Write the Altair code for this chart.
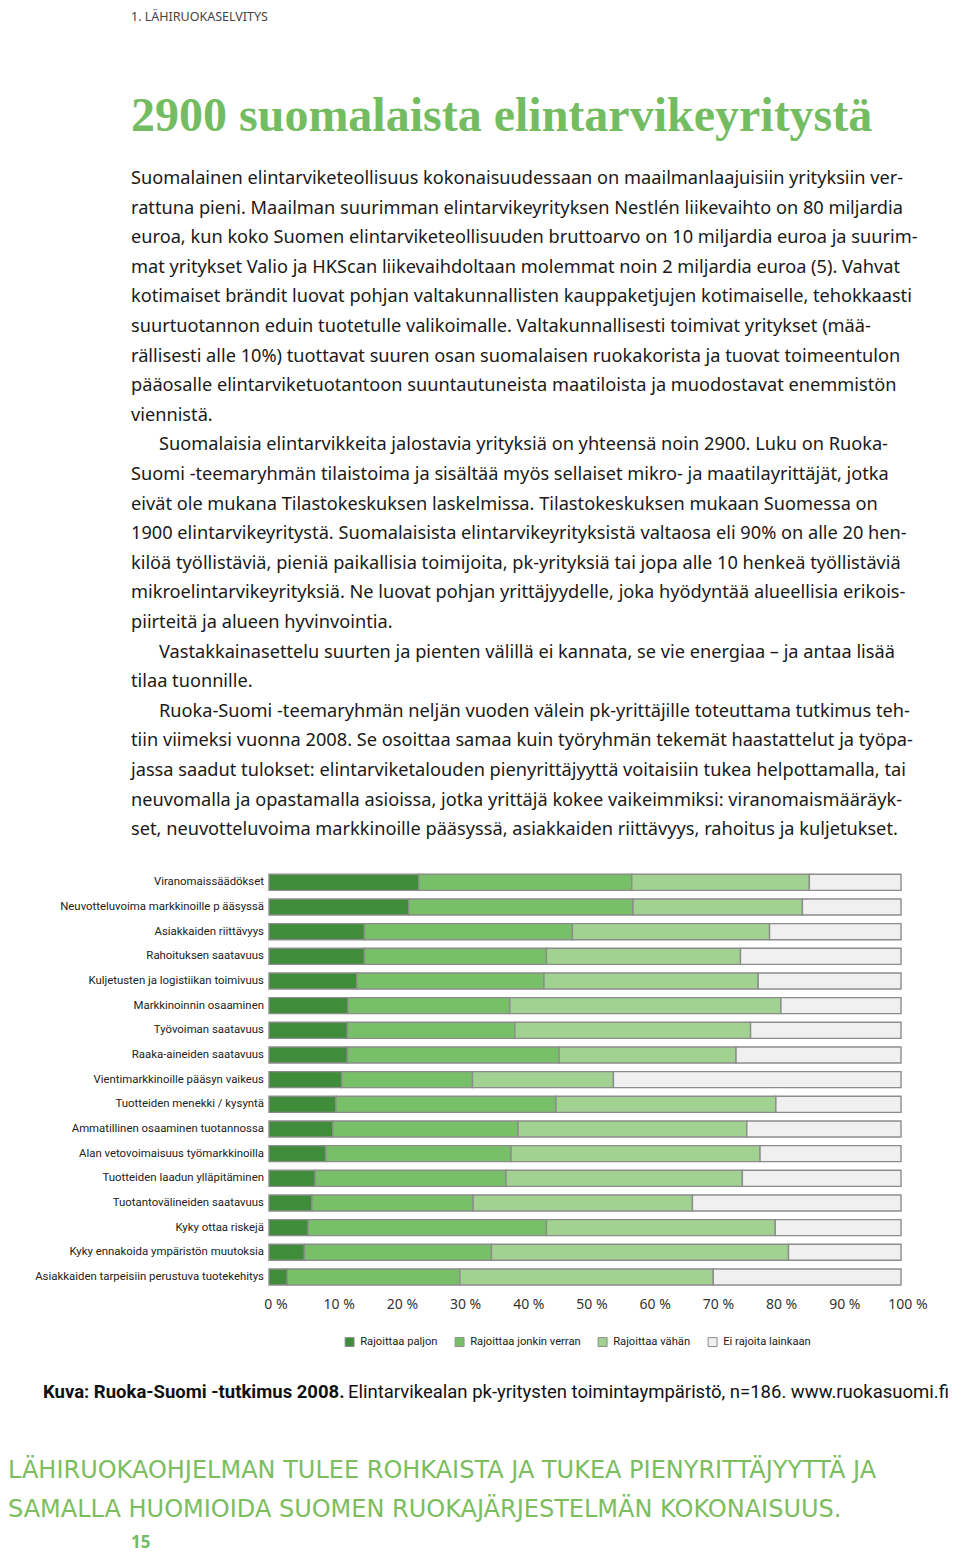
import altair as alt
import pandas as pd

# ---------------- chart data ----------------
categories = [
    "Viranomaissäädökset",
    "Neuvotteluvoima markkinoille p ääsyssä",
    "Asiakkaiden riittävyys",
    "Rahoituksen saatavuus",
    "Kuljetusten ja logistiikan toimivuus",
    "Markkinoinnin osaaminen",
    "Työvoiman saatavuus",
    "Raaka-aineiden saatavuus",
    "Vientimarkkinoille pääsyn vaikeus",
    "Tuotteiden menekki / kysyntä",
    "Ammatillinen osaaminen tuotannossa",
    "Alan vetovoimaisuus työmarkkinoilla",
    "Tuotteiden laadun ylläpitäminen",
    "Tuotantovälineiden saatavuus",
    "Kyky ottaa riskejä",
    "Kyky ennakoida ympäristön muutoksia",
    "Asiakkaiden tarpeisiin perustuva tuotekehitys",
]
rajoittaa_paljon = [23.7, 22.1, 15.1, 15.1, 13.9, 12.5, 12.4, 12.4, 11.5, 10.6, 10.1, 9.0, 7.3, 6.8, 6.2, 5.6, 2.9]
rajoittaa_jonkin = [33.7, 35.5, 32.9, 28.8, 29.6, 25.6, 26.5, 33.5, 20.7, 34.8, 29.3, 29.3, 30.2, 25.5, 37.7, 29.6, 27.3]
rajoittaa_vahan = [28.1, 26.8, 31.2, 30.7, 33.9, 42.9, 37.3, 28.0, 22.3, 34.8, 36.2, 39.4, 37.4, 34.7, 36.2, 47.0, 40.1]
ei_rajoita = [14.5, 15.6, 20.8, 25.4, 22.6, 19.0, 23.8, 26.1, 45.5, 19.8, 24.4, 22.3, 25.1, 33.0, 19.9, 17.8, 29.7]

series_names = ["Rajoittaa paljon", "Rajoittaa jonkin verran", "Rajoittaa vähän", "Ei rajoita lainkaan"]
series_colors = ["#3f8d3b", "#78c068", "#a2d292", "#f0f0f0"]

tick_values = [0, 10, 20, 30, 40, 50, 60, 70, 80, 90, 100]
tick_labels = ["0 %", "10 %", "20 %", "30 %", "40 %", "50 %", "60 %", "70 %", "80 %", "90 %", "100 %"]

# ---------------- page text ----------------
header_text = "1. LÄHIRUOKASELVITYS"
title_text = "2900 suomalaista elintarvikeyritystä"

para1 = [
    "Suomalainen elintarviketeollisuus kokonaisuudessaan on maailmanlaajuisiin yrityksiin ver-",
    "rattuna pieni. Maailman suurimman elintarvikeyrityksen Nestlén liikevaihto on 80 miljardia",
    "euroa, kun koko Suomen elintarviketeollisuuden bruttoarvo on 10 miljardia euroa ja suurim-",
    "mat yritykset Valio ja HKScan liikevaihdoltaan molemmat noin 2 miljardia euroa (5). Vahvat",
    "kotimaiset brändit luovat pohjan valtakunnallisten kauppaketjujen kotimaiselle, tehokkaasti",
    "suurtuotannon eduin tuotetulle valikoimalle. Valtakunnallisesti toimivat yritykset (mää-",
    "rällisesti alle 10%) tuottavat suuren osan suomalaisen ruokakorista ja tuovat toimeentulon",
    "pääosalle elintarviketuotantoon suuntautuneista maatiloista ja muodostavat enemmistön",
    "viennistä.",
]
para2 = [
    "Suomalaisia elintarvikkeita jalostavia yrityksiä on yhteensä noin 2900. Luku on Ruoka-",
    "Suomi -teemaryhmän tilaistoima ja sisältää myös sellaiset mikro- ja maatilayrittäjät, jotka",
    "eivät ole mukana Tilastokeskuksen laskelmissa. Tilastokeskuksen mukaan Suomessa on",
    "1900 elintarvikeyritystä. Suomalaisista elintarvikeyrityksistä valtaosa eli 90% on alle 20 hen-",
    "kilöä työllistäviä, pieniä paikallisia toimijoita, pk-yrityksiä tai jopa alle 10 henkeä työllistäviä",
    "mikroelintarvikeyrityksiä. Ne luovat pohjan yrittäjyydelle, joka hyödyntää alueellisia erikois-",
    "piirteitä ja alueen hyvinvointia.",
]
para3 = [
    "Vastakkainasettelu suurten ja pienten välillä ei kannata, se vie energiaa – ja antaa lisää",
    "tilaa tuonnille.",
]
para4 = [
    "Ruoka-Suomi -teemaryhmän neljän vuoden välein pk-yrittäjille toteuttama tutkimus teh-",
    "tiin viimeksi vuonna 2008. Se osoittaa samaa kuin työryhmän tekemät haastattelut ja työpa-",
    "jassa saadut tulokset: elintarviketalouden pienyrittäjyyttä voitaisiin tukea helpottamalla, tai",
    "neuvomalla ja opastamalla asioissa, jotka yrittäjä kokee vaikeimmiksi: viranomaismääräyk-",
    "set, neuvotteluvoima markkinoille pääsyssä, asiakkaiden riittävyys, rahoitus ja kuljetukset.",
]
caption_bold = "Kuva: Ruoka-Suomi -tutkimus 2008."
caption_rest = "Elintarvikealan pk-yritysten toimintaympäristö, n=186. www.ruokasuomi.fi"
footer_lines = [
    "LÄHIRUOKAOHJELMAN TULEE ROHKAISTA JA TUKEA PIENYRITTÄJYYTTÄ JA",
    "SAMALLA HUOMIOIDA SUOMEN RUOKAJÄRJESTELMÄN KOKONAISUUS.",
]
page_number = "15"

# ---------------- build tables ----------------
rows = []
for i, c in enumerate(categories):
    for k, vals in enumerate([rajoittaa_paljon, rajoittaa_jonkin, rajoittaa_vahan, ei_rajoita]):
        rows.append({"cat": c, "series": series_names[k], "value": vals[i], "k": k})
df = pd.DataFrame(rows)
cat_df = pd.DataFrame({"cat": categories})
tick_df = pd.DataFrame({"tick": tick_values, "label": tick_labels})
one = pd.DataFrame({"d": [0]})

xscale = alt.Scale(domain=[0, 100], range=[261, 893], nice=False, zero=True)
yscale = alt.Scale(domain=categories, range=[862, 1281.3], paddingInner=0.35, paddingOuter=0.175)

BODY_FONT = "Noto Sans"
GREEN = "#74bc62"
BODY_SIZE = 18.2


def text_block(lines, x, y, size, lh=None, color="#1a1a1a", font=BODY_FONT, weight="normal",
               align="left", baseline="top"):
    kw = dict(text=lines, align=align, baseline=baseline, font=font, fontSize=size,
              fontWeight=weight, color=color)
    if lh is not None:
        kw["lineHeight"] = lh
    return alt.Chart(one).mark_text(**kw).encode(x=alt.value(x), y=alt.value(y))


bars = alt.Chart(df).mark_bar(stroke="#8c8c8c", strokeWidth=1.4).encode(
    x=alt.X("value:Q", stack="zero", scale=xscale, axis=None),
    y=alt.Y("cat:N", scale=yscale, sort=categories, axis=None),
    color=alt.Color(
        "series:N",
        scale=alt.Scale(domain=series_names, range=series_colors),
        legend=alt.Legend(
            orient="none", legendX=336, legendY=1328, direction="horizontal", title=None,
            symbolType="square", symbolSize=80, symbolStrokeColor="#8c8c8c", symbolStrokeWidth=1,
            labelFont="Roboto", labelFontSize=11.2, labelColor="#222", columnPadding=15,
            labelOffset=5, columns=4,
        ),
    ),
    order=alt.Order("k:Q", sort="ascending"),
)

cat_labels = alt.Chart(cat_df).mark_text(
    align="right", baseline="middle", font="Roboto", fontSize=11.4, color="#222"
).encode(
    x=alt.value(256),
    y=alt.Y("cat:N", scale=yscale, sort=categories, axis=None),
    text="cat:N",
)

tick_text = alt.Chart(tick_df).mark_text(
    align="center", baseline="middle", font=BODY_FONT, fontSize=14, color="#333", dx=7
).encode(
    x=alt.X("tick:Q", scale=xscale, axis=None),
    y=alt.value(1297),
    text="label:N",
)

LH = 29.6
Y0 = 162
layers = [
    text_block([header_text], 123, 3, 12.5, color="#444"),
    text_block([title_text], 123, 123, 48, color=GREEN, font="Liberation Serif", weight="bold",
               baseline="alphabetic"),
    text_block(para1, 123, Y0, BODY_SIZE, LH),
    text_block(para2[:1], 151, Y0 + 9 * LH, BODY_SIZE, LH),
    text_block(para2[1:], 123, Y0 + 10 * LH, BODY_SIZE, LH),
    text_block(para3[:1], 151, Y0 + 16 * LH, BODY_SIZE, LH),
    text_block(para3[1:], 123, Y0 + 17 * LH, BODY_SIZE, LH),
    text_block(para4[:1], 151, Y0 + 18 * LH, BODY_SIZE, LH),
    text_block(para4[1:], 123, Y0 + 19 * LH, BODY_SIZE, LH),
    bars,
    cat_labels,
    tick_text,
    text_block([caption_bold], 35, 1384, 18.5, color="#111", font="Roboto", weight="bold",
               baseline="middle"),
    text_block([caption_rest], 340, 1384, 18.5, color="#111", font="Roboto", baseline="middle"),
    text_block(footer_lines, 0, 1451, 24, 39, color="#7cbd5e", font="DejaVu Sans"),
    text_block([page_number], 123, 1535, 17, color=GREEN, font=BODY_FONT, weight="bold",
               baseline="middle"),
]

chart = alt.layer(*layers).properties(
    width=944, height=1547, padding=0, autosize=alt.AutoSizeParams(type="none"),
    background="white",
).configure_view(stroke=None)

chart.save("out.html", embed_options={"renderer": "svg", "actions": False})
